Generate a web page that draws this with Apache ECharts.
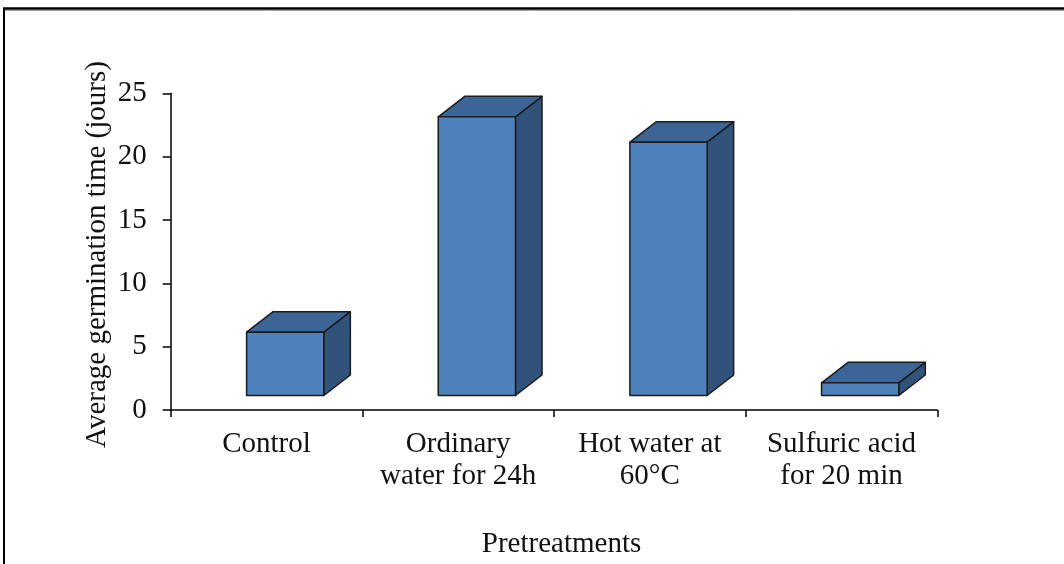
<!DOCTYPE html>
<html>
<head>
<meta charset="utf-8">
<style>
  html, body { margin: 0; padding: 0; background: #ffffff; }
  #chart { width: 1064px; height: 564px; }
</style>
<script src="https://cdn.jsdelivr.net/npm/echarts@6/dist/echarts.min.js"></script>
</head>
<body>
<div id="chart"></div>
<script>
// Pretreatment categories and their average germination times (days)
const categories = ['Control', 'Ordinary\nwater for 24h', 'Hot water at\n60°C', 'Sulfuric acid\nfor 20 min'];
const germinationTime = [5, 22, 20, 1];
const yTicks = { min: 0, max: 25, interval: 5 };

const FONT = '"Liberation Serif", "Times New Roman", serif';
const FONT_SIZE = 29;
const FRONT = '#4f81bd';
const TOP = '#3c6494';
const SIDE = '#30527b';
const EDGE = '#1b1b1b';

// Oblique projection of the boxes: bars sit halfway back on the floor
const floorShift = [18.7, -14.5];   // front face offset from the axis plane
const depth = [26.5, -20.5];        // bar depth vector
const barRatio = 0.403;             // bar width as share of a category band

const chart = echarts.init(document.getElementById('chart'), null, { renderer: 'canvas' });

function renderBox(params, api) {
  const idx = api.value(0);
  const top = api.coord([idx, api.value(1)]);
  const base = api.coord([idx, 0]);
  const w = api.size([1, 0])[0] * barRatio;
  const x0 = top[0] - w / 2 + floorShift[0];
  const x1 = x0 + w;
  const yb = base[1] + floorShift[1];
  const yt = top[1] + floorShift[1];
  const dx = depth[0], dy = depth[1];
  const edge = { stroke: EDGE, lineWidth: 1.5, lineJoin: 'round' };
  return {
    type: 'group',
    children: [
      {
        type: 'polygon',
        shape: { points: [[x1, yb], [x1 + dx, yb + dy], [x1 + dx, yt + dy], [x1, yt]] },
        style: Object.assign({ fill: SIDE }, edge)
      },
      {
        type: 'polygon',
        shape: { points: [[x0, yt], [x0 + dx, yt + dy], [x1 + dx, yt + dy], [x1, yt]] },
        style: Object.assign({ fill: TOP }, edge)
      },
      {
        type: 'rect',
        shape: { x: x0, y: yt, width: w, height: yb - yt },
        style: Object.assign({ fill: FRONT }, edge)
      }
    ]
  };
}

chart.setOption({
  animation: false,
  backgroundColor: '#ffffff',
  grid: { left: 170.7, right: 126.7, top: 93.3, bottom: 154 },
  xAxis: {
    type: 'category',
    data: categories,
    boundaryGap: true,
    axisLine: { lineStyle: { color: '#000', width: 1.5 } },
    axisTick: { show: true, length: 7, inside: false, lineStyle: { color: '#000', width: 1.5 } },
    axisLabel: {
      margin: 18,
      color: '#111',
      fontFamily: FONT,
      fontSize: FONT_SIZE,
      lineHeight: 32,
      interval: 0
    },
    splitLine: { show: false }
  },
  yAxis: {
    type: 'value',
    min: yTicks.min,
    max: yTicks.max,
    interval: yTicks.interval,
    axisLine: { show: true, lineStyle: { color: '#000', width: 1.5 } },
    axisTick: { show: true, length: 8, lineStyle: { color: '#000', width: 1.5 } },
    axisLabel: { margin: 24, color: '#111', fontFamily: FONT, fontSize: FONT_SIZE },
    splitLine: { show: false }
  },
  series: [{
    type: 'custom',
    renderItem: renderBox,
    encode: { x: 0, y: 1 },
    data: germinationTime.map((v, i) => [i, v])
  }],
  graphic: [
    {
      type: 'text',
      x: 97,
      y: 254.5,
      rotation: Math.PI / 2,
      style: {
        text: 'Average germination time (jours)',
        font: FONT_SIZE + 'px ' + FONT,
        fill: '#111',
        textAlign: 'center',
        textVerticalAlign: 'middle'
      }
    },
    {
      type: 'text',
      x: 561.5,
      y: 544,
      style: {
        text: 'Pretreatments',
        font: FONT_SIZE + 'px ' + FONT,
        fill: '#111',
        textAlign: 'center',
        textVerticalAlign: 'middle'
      }
    },
    // Frame around the figure
    { type: 'line', shape: { x1: 3, y1: 10.5, x2: 1064, y2: 10.5 }, style: { stroke: '#a0a0a0', lineWidth: 1 } },
    { type: 'line', shape: { x1: 3, y1: 8.5, x2: 1064, y2: 8.5 }, style: { stroke: '#000', lineWidth: 2.5 } },
    { type: 'line', shape: { x1: 4, y1: 8, x2: 4, y2: 564 }, style: { stroke: '#000', lineWidth: 2 } }
  ]
});
</script>
</body>
</html>
